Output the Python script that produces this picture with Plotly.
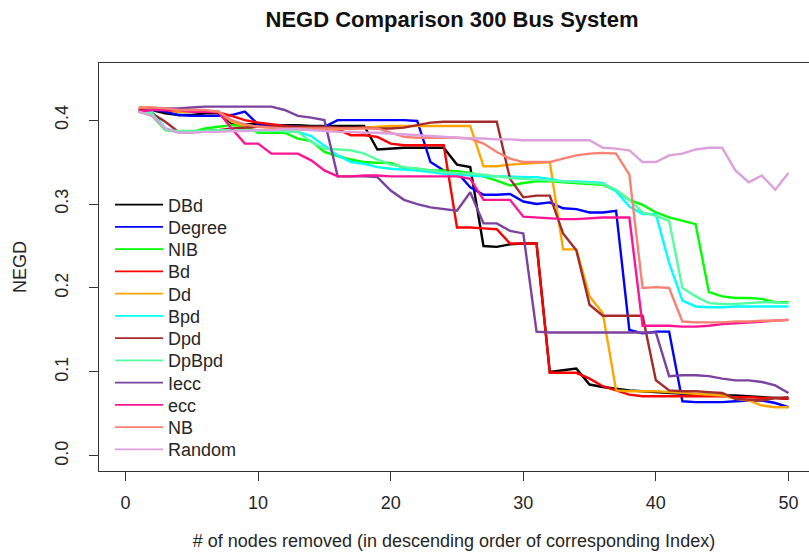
import plotly.graph_objects as go

# x: number of nodes removed
nodes = list(range(1, 51))

dbd = [.412, .412, .408, .406, .406, .408, .408, .396, .395, .395,
       .394, .394, .394, .393, .393, .393, .393, .393, .365, .366,
       .367, .367, .367, .367, .347, .344, .250, .249, .252, .253,
       .253, .100, .102, .104, .085, .082, .080, .078, .077, .076,
       .075, .074, .073, .073, .072, .072, .071, .070, .069, .068]

degree = [.414, .413, .410, .406, .405, .405, .405, .406, .410, .395,
          .393, .393, .392, .390, .392, .400, .400, .400, .400, .400,
          .400, .399, .350, .340, .338, .320, .311, .311, .312, .303,
          .300, .302, .295, .294, .290, .290, .292, .150, .146, .148,
          .148, .065, .064, .064, .064, .065, .066, .066, .063, .058]

nib = [.410, .405, .388, .386, .386, .390, .392, .394, .393, .385,
       .385, .385, .378, .375, .362, .357, .353, .350, .349, .349,
       .343, .342, .340, .340, .339, .337, .333, .328, .322, .325,
       .327, .327, .326, .325, .324, .323, .316, .305, .299, .290,
       .284, .280, .276, .195, .190, .188, .188, .187, .183, .183]

bd = [.413, .413, .412, .410, .410, .410, .409, .405, .400, .397,
      .395, .393, .391, .390, .389, .389, .382, .382, .380, .372,
      .370, .370, .370, .370, .272, .272, .271, .270, .253, .253,
      .253, .099, .099, .099, .092, .083, .078, .073, .071, .071,
      .071, .071, .071, .071, .071, .070, .070, .069, .069, .068]

dd = [.415, .415, .413, .410, .410, .410, .410, .398, .393, .392,
      .391, .390, .389, .389, .389, .389, .390, .391, .392, .393,
      .393, .393, .393, .393, .393, .393, .345, .345, .347, .348,
      .349, .350, .246, .246, .190, .170, .078, .077, .077, .077,
      .076, .075, .074, .073, .072, .068, .066, .060, .058, .058]

bpd = [.410, .410, .390, .386, .386, .387, .388, .388, .388, .388,
       .388, .387, .386, .381, .370, .358, .350, .348, .344, .342,
       .341, .340, .338, .336, .335, .334, .333, .333, .333, .332,
       .332, .330, .327, .327, .326, .325, .315, .297, .288, .288,
       .230, .185, .178, .177, .177, .178, .178, .178, .178, .178]

dpd = [.410, .408, .398, .386, .386, .387, .388, .390, .391, .392,
       .392, .392, .392, .392, .392, .391, .391, .391, .390, .390,
       .391, .394, .397, .398, .398, .398, .398, .398, .330, .308,
       .310, .310, .265, .245, .180, .167, .167, .167, .167, .090,
       .078, .077, .077, .076, .075, .068, .067, .066, .069, .070]

dpbpd = [.410, .408, .388, .387, .387, .387, .388, .388, .388, .387,
         .387, .387, .386, .374, .366, .365, .364, .360, .353, .347,
         .344, .342, .340, .338, .337, .336, .335, .333, .331, .330,
         .329, .328, .327, .326, .325, .324, .317, .305, .290, .286,
         .280, .200, .190, .182, .181, .181, .182, .183, .183, .182]

iecc = [.410, .413, .414, .414, .415, .416, .416, .416, .416, .416,
        .416, .412, .405, .403, .400, .333, .333, .333, .332, .316,
        .305, .300, .296, .294, .292, .314, .277, .277, .268, .265,
        .148, .147, .147, .147, .147, .147, .147, .147, .147, .147,
        .095, .096, .096, .095, .092, .090, .090, .088, .084, .075]

ecc = [.410, .412, .412, .412, .410, .410, .410, .390, .372, .372,
       .360, .360, .360, .352, .340, .333, .333, .334, .334, .333,
       .333, .333, .333, .333, .333, .330, .305, .305, .305, .285,
       .284, .283, .282, .282, .283, .284, .284, .284, .155, .155,
       .155, .154, .154, .155, .157, .158, .159, .160, .161, .162]

nb = [.415, .415, .414, .412, .412, .412, .410, .400, .395, .392,
      .391, .390, .390, .390, .390, .390, .390, .390, .390, .385,
      .380, .379, .379, .379, .379, .378, .372, .362, .354, .350,
      .350, .350, .354, .358, .360, .361, .360, .335, .200, .201,
      .200, .160, .159, .159, .159, .160, .160, .161, .161, .162]

random_order = [.410, .405, .390, .385, .385, .386, .386, .387, .387, .388,
                .388, .389, .389, .388, .387, .386, .386, .385, .385, .384,
                .383, .382, .381, .380, .379, .378, .378, .377, .377, .376,
                .376, .376, .376, .376, .376, .367, .366, .364, .350, .350,
                .358, .360, .365, .367, .367, .340, .326, .334, .317, .337]

series_names = ["DBd", "Degree", "NIB", "Bd", "Dd", "Bpd", "Dpd", "DpBpd",
                "Iecc", "ecc", "NB", "Random"]
series_values = [dbd, degree, nib, bd, dd, bpd, dpd, dpbpd, iecc, ecc, nb,
                 random_order]
series_colors = ["#000000", "#0000FF", "#00FF00", "#FF0000", "#FFA500",
                 "#00FFFF", "#A52A2A", "#54FF9F", "#7B42A0", "#FF1493",
                 "#FA8072", "#DDA0DD"]

W, H = 809, 560
M_L, M_R, M_T, M_B = 99, 0, 63, 89
plot_w = W - M_L - M_R
plot_h = H - M_T - M_B

FONT = "Liberation Sans, Arial, sans-serif"
TEXT = "#262626"

fig = go.Figure()
layout_legends = {}
for i, (name, vals, col) in enumerate(zip(series_names, series_values,
                                          series_colors)):
    key = "legend" if i == 0 else f"legend{i + 1}"
    # the curve itself
    fig.add_trace(go.Scatter(
        x=nodes, y=vals, mode="lines", name=name,
        line=dict(color=col, width=2.4),
        legendgroup=name, showlegend=False,
    ))
    # legend key drawn with a thinner line, sharing the curve's group
    fig.add_trace(go.Scatter(
        x=[None], y=[None], mode="lines", name=name,
        line=dict(color=col, width=1.7),
        legendgroup=name, legend=key, showlegend=True,
        hoverinfo="skip",
    ))
    # one single-entry legend per series, stacked with tight row spacing
    row_y = 205 + 22.25 * i
    layout_legends[key] = dict(
        x=(110 - M_L) / plot_w, xanchor="left",
        y=(H - M_B - row_y) / plot_h, yanchor="middle",
        bgcolor="rgba(0,0,0,0)", borderwidth=0,
        font=dict(family=FONT, size=18, color=TEXT),
        itemwidth=48,
    )

fig.update_layout(
    width=W, height=H,
    showlegend=True,
    margin=dict(l=M_L, r=M_R, t=M_T, b=M_B, autoexpand=False),
    paper_bgcolor="white", plot_bgcolor="white",
    title=dict(text="<b>NEGD Comparison 300 Bus System</b>",
               x=452 / W, xanchor="center", y=1 - 19 / H, yanchor="middle",
               font=dict(family=FONT, size=22, color="#111111")),
    font=dict(family=FONT, size=18, color=TEXT),
    **layout_legends,
)

axis_common = dict(
    showgrid=False, zeroline=False,
    showline=True, mirror=True, linecolor="#333333", linewidth=1.2,
    ticks="outside", ticklen=9, tickwidth=1.2, tickcolor="#333333",
    tickfont=dict(family=FONT, size=18, color=TEXT),
    automargin=False,
)

fig.update_xaxes(
    range=[-2, 51.55], tickvals=[0, 10, 20, 30, 40, 50],
    ticklabelstandoff=6,
    title=dict(text="# of nodes removed (in descending order of corresponding Index)",
               font=dict(family=FONT, size=18, color=TEXT), standoff=22),
    **axis_common,
)
fig.update_yaxes(
    range=[-0.018, 0.468], tickvals=[0, 0.1, 0.2, 0.3, 0.4],
    ticktext=["0.0", "0.1", "0.2", "0.3", "0.4"], tickangle=-90,
    ticklabelstandoff=14,
    title=dict(text="NEGD", font=dict(family=FONT, size=18, color=TEXT),
               standoff=20),
    **axis_common,
)

fig.write_html("out.html")
